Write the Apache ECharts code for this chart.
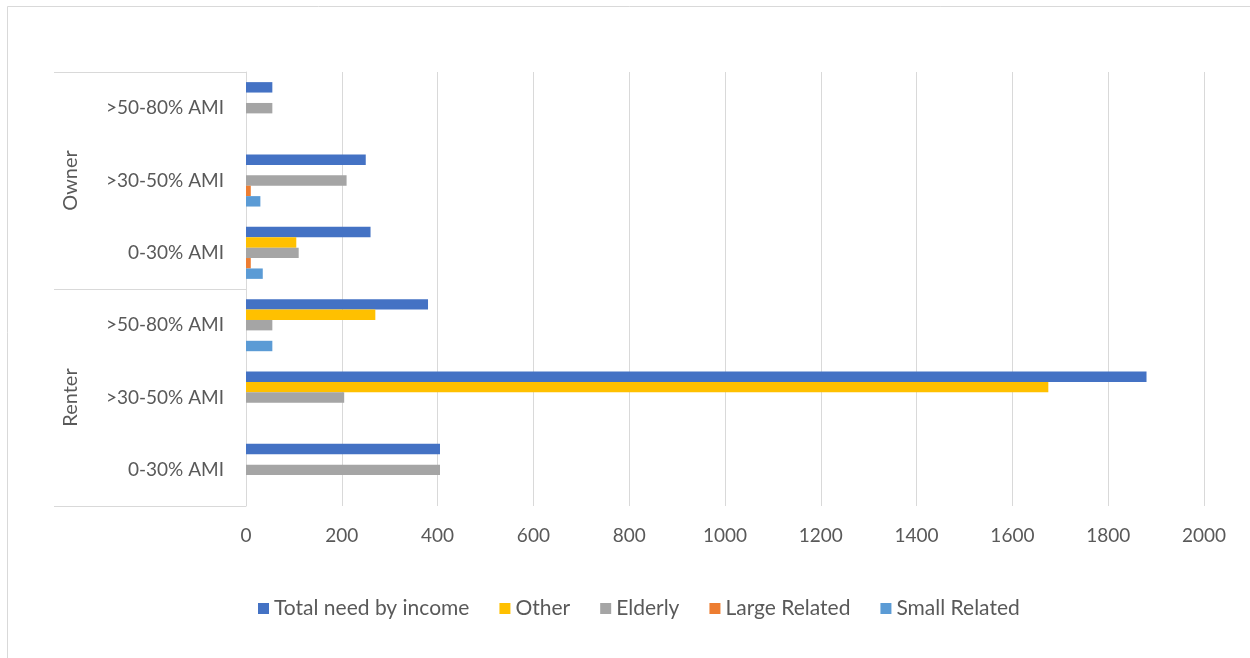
<!DOCTYPE html>
<html>
<head>
<meta charset="utf-8">
<script src="https://cdn.jsdelivr.net/npm/echarts@6/dist/echarts.min.js"></script>
<style>
html,body{margin:0;padding:0;background:#fff;}
#chart{width:1250px;height:658px;}
</style>
</head>
<body>
<div id="chart"></div>
<script>
// Categories, bottom to top
const incomeLabels = ['0-30% AMI', '>30-50% AMI', '>50-80% AMI', '0-30% AMI', '>30-50% AMI', '>50-80% AMI'];
const tenureOfCategory = ['Renter', 'Renter', 'Renter', 'Owner', 'Owner', 'Owner'];
const tenureGroups = ['Renter', 'Owner'];
const xTicks = [0, 200, 400, 600, 800, 1000, 1200, 1400, 1600, 1800, 2000];

const seriesNames = ['Total need by income', 'Other', 'Elderly', 'Large Related', 'Small Related'];
const totalNeed     = [405, 1880, 380, 260, 250, 55];
const otherVals     = [0, 1675, 270, 105, 0, 0];
const elderlyVals   = [405, 205, 55, 110, 210, 55];
const largeRelated  = [0, 0, 0, 10, 10, 0];
const smallRelated  = [0, 0, 55, 35, 30, 0];

const seriesValues = [totalNeed, otherVals, elderlyVals, largeRelated, smallRelated];
const colors = ['#4472C4', '#FFC000', '#A5A5A5', '#ED7D31', '#5B9BD5'];

const catKeys = incomeLabels.map((l, i) => tenureOfCategory[i] + '|' + l);
const font = 'Lato, "Open Sans", sans-serif';
const textColor = '#595959';

const chart = echarts.init(document.getElementById('chart'), null, {renderer: 'canvas'});
chart.setOption({
  animation: false,
  backgroundColor: '#fff',
  textStyle: {fontFamily: font},
  color: colors,
  graphic: [{
    type: 'rect',
    shape: {x: 7.5, y: 6.5, width: 1400, height: 800},
    style: {fill: 'none', stroke: '#d9d9d9', lineWidth: 1},
    silent: true
  }],
  grid: {left: 246, right: 46, top: 72, bottom: 152, containLabel: false},
  legend: {
    bottom: 34,
    left: 253,
    itemWidth: 11,
    itemHeight: 11,
    itemGap: 30,
    icon: 'rect',
    textStyle: {fontFamily: font, fontSize: 21, color: textColor},
    data: seriesNames
  },
  xAxis: {
    type: 'value',
    min: 0,
    max: 2000,
    interval: 200,
    axisLine: {show: false},
    axisTick: {show: false},
    splitLine: {show: true, lineStyle: {color: '#d9d9d9', width: 1}},
    axisLabel: {
      fontFamily: font, fontSize: 19, color: textColor, margin: 20,
      formatter: v => xTicks.includes(v) ? String(v) : ''
    }
  },
  yAxis: [{
    type: 'category',
    data: catKeys,
    axisLine: {show: true, lineStyle: {color: '#d9d9d9', width: 1}},
    axisTick: {show: false},
    axisLabel: {
      fontFamily: font, fontSize: 19, color: textColor, margin: 22,
      formatter: v => v.split('|')[1]
    }
  }, {
    type: 'category',
    data: tenureGroups,
    position: 'left',
    axisLine: {show: false},
    axisTick: {show: true, length: 192, lineStyle: {color: '#d9d9d9', width: 1}},
    axisLabel: {
      fontFamily: font, fontSize: 20, color: textColor, rotate: 90, margin: 165
    },
    splitLine: {show: false}
  }],
  series: seriesNames.map((name, i) => ({
    name: name,
    type: 'bar',
    yAxisIndex: 0,
    data: seriesValues[i],
    barGap: '0%',
    barCategoryGap: '28%',
    itemStyle: {color: colors[i]}
  }))
});
</script>
</body>
</html>
